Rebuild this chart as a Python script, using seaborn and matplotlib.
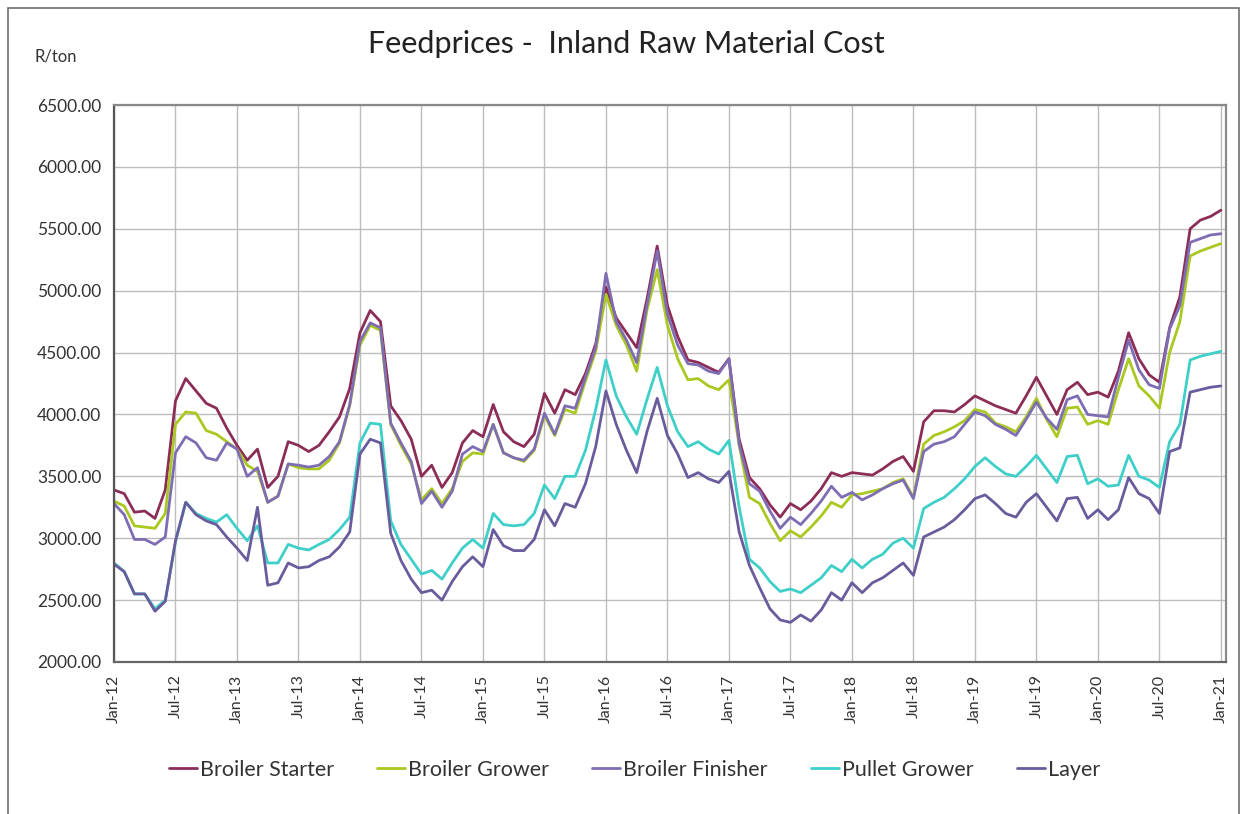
import numpy as np
import pandas as pd
import matplotlib
matplotlib.use("Agg")
import matplotlib.pyplot as plt
from matplotlib.patches import Rectangle
import seaborn as sns

# Monthly inland raw material cost (R/ton), Jan-2012 .. Jan-2021
months = pd.date_range("2012-01-01", "2021-01-01", freq="MS")

broiler_starter = [
    3390, 3360, 3210, 3220, 3160, 3390, 4110, 4290, 4190, 4090, 4050, 3890,
    3750, 3630, 3720, 3410, 3500, 3780, 3750, 3700, 3750, 3860, 3980, 4210,
    4660, 4840, 4750, 4070, 3950, 3800, 3500, 3590, 3410, 3530, 3770, 3870,
    3820, 4080, 3860, 3780, 3740, 3840, 4170, 4010, 4200, 4160, 4330, 4570,
    5030, 4780, 4660, 4540, 4930, 5360, 4880, 4630, 4440, 4420, 4380, 4340,
    4450, 3800, 3490, 3400, 3270, 3170, 3280, 3230, 3300, 3400, 3530, 3500,
    3530, 3520, 3510, 3560, 3620, 3660, 3540, 3940, 4030, 4030, 4020, 4080,
    4150, 4110, 4070, 4040, 4010, 4150, 4300, 4150, 4000, 4200, 4260, 4160,
    4180, 4140, 4350, 4660, 4450, 4320, 4260, 4700, 4950, 5500, 5570, 5600,
    5650,
]
broiler_grower = [
    3300, 3260, 3100, 3090, 3080, 3200, 3920, 4020, 4010, 3870, 3840, 3780,
    3720, 3590, 3540, 3290, 3340, 3600, 3570, 3560, 3560, 3630, 3770, 4070,
    4560, 4720, 4680, 3920, 3750, 3600, 3310, 3400, 3280, 3400, 3620, 3690,
    3680, 3920, 3690, 3650, 3620, 3710, 3990, 3830, 4040, 4010, 4270, 4510,
    4970, 4720, 4560, 4350, 4840, 5170, 4720, 4450, 4280, 4290, 4230, 4200,
    4280, 3750, 3330, 3280, 3120, 2980, 3060, 3010, 3090, 3180, 3290, 3250,
    3350, 3360, 3380, 3400, 3450, 3480, 3330, 3760, 3830, 3860, 3900, 3950,
    4040, 4020, 3930, 3900, 3860, 3980, 4130, 3960, 3820, 4050, 4060, 3920,
    3950, 3920, 4200, 4450, 4230, 4150, 4050, 4500, 4750, 5280, 5320, 5350,
    5380,
]
broiler_finisher = [
    3280, 3190, 2990, 2990, 2950, 3010, 3690, 3820, 3770, 3650, 3630, 3770,
    3720, 3500, 3570, 3290, 3340, 3600, 3590, 3575, 3590, 3660, 3780, 4080,
    4590, 4740, 4700, 3930, 3770, 3620, 3280, 3380, 3250, 3380, 3680, 3740,
    3700, 3920, 3690, 3650, 3630, 3720, 4010, 3840, 4070, 4050, 4300, 4540,
    5140, 4750, 4600, 4420, 4880, 5320, 4810, 4560, 4410, 4400, 4350, 4330,
    4450, 3760, 3440, 3380, 3220, 3080, 3170, 3110, 3200, 3300, 3420, 3330,
    3370, 3310, 3350, 3400, 3440, 3470, 3320, 3700, 3760, 3780, 3820, 3920,
    4020, 3990, 3920, 3880, 3830, 3960, 4100, 3970, 3880, 4120, 4150, 4000,
    3990, 3980, 4300, 4600, 4360, 4240, 4210, 4690, 4880, 5390, 5420, 5450,
    5460,
]
pullet_grower = [
    2800, 2730, 2550, 2550, 2430, 2500, 2970, 3290, 3200, 3160, 3130, 3190,
    3080, 2980, 3100, 2800, 2800, 2950, 2920, 2905, 2950, 2990, 3070, 3170,
    3770, 3930, 3920, 3140, 2950, 2830, 2710, 2740, 2670, 2800, 2920, 2990,
    2920, 3200, 3110, 3100, 3110, 3200, 3430, 3320, 3500, 3500, 3710, 4040,
    4440, 4150, 3980, 3840, 4120, 4380, 4070, 3860, 3740, 3780, 3720, 3680,
    3790, 3250, 2830, 2760, 2650, 2570, 2590, 2560, 2620, 2680, 2780, 2730,
    2830, 2760, 2830, 2870, 2960, 3000, 2920, 3240, 3290, 3330, 3400, 3480,
    3580, 3650, 3580, 3520, 3500, 3580, 3670, 3560, 3450, 3660, 3670, 3440,
    3480, 3420, 3430, 3670, 3500, 3470, 3410, 3780, 3920, 4440, 4470, 4490,
    4510,
]
layer = [
    2790, 2730, 2550, 2550, 2410, 2490, 2980, 3290, 3190, 3140, 3110, 3010,
    2920, 2820, 3250, 2620, 2640, 2800, 2760, 2770, 2820, 2850, 2930, 3050,
    3680, 3800, 3770, 3040, 2820, 2670, 2560, 2580, 2500, 2650, 2770, 2850,
    2770, 3070, 2940, 2900, 2900, 2990, 3230, 3100, 3280, 3250, 3440, 3740,
    4190, 3920, 3710, 3530, 3860, 4130, 3830, 3680, 3490, 3530, 3480, 3450,
    3540, 3050, 2780, 2600, 2430, 2340, 2320, 2380, 2330, 2420, 2560, 2500,
    2640, 2560, 2640, 2680, 2740, 2800, 2700, 3010, 3050, 3090, 3150, 3230,
    3320, 3350, 3280, 3200, 3170, 3290, 3360, 3250, 3140, 3320, 3330, 3160,
    3230, 3150, 3230, 3490, 3360, 3320, 3200, 3700, 3730, 4180, 4200, 4220,
    4230,
]

series_names = ["Broiler Starter", "Broiler Grower", "Broiler Finisher",
                "Pullet Grower", "Layer"]
series_values = [broiler_starter, broiler_grower, broiler_finisher,
                 pullet_grower, layer]
series_colors = ["#8C2D58", "#A9C820", "#7F6DB4", "#3FCFC9", "#6A5C9C"]

y_ticks = [2000, 2500, 3000, 3500, 4000, 4500, 5000, 5500, 6000, 6500]

# long-form table: one row per month and feed type
rows = []
for name, vals in zip(series_names, series_values):
    for i, v in enumerate(vals):
        rows.append({"month": i, "feed": name, "price": v})
df = pd.DataFrame(rows)

sns.set_theme(style="white")
plt.rcParams["font.family"] = ["Lato", "DejaVu Sans"]

W, H = 1244, 814
fig = plt.figure(figsize=(W / 100, H / 100), dpi=100)
ax = fig.add_axes([114 / W, 1 - 662 / H, (1226 - 114) / W, (662 - 105) / H])

sns.lineplot(data=df, x="month", y="price", hue="feed",
             hue_order=series_names, palette=dict(zip(series_names, series_colors)),
             linewidth=2.0, ax=ax, legend=True)

# axes, ticks and grid
ax.set_xlim(0, 108.5)
ax.set_ylim(2000, 6500)
tick_idx = list(range(0, len(months), 6))
ax.set_xticks(tick_idx)
ax.set_xticklabels([months[i].strftime("%b-%y") for i in tick_idx],
                   rotation=90, fontsize=11.5, color="#333333")
ax.set_yticks(y_ticks)
ax.set_yticklabels([f"{v:.2f}" for v in y_ticks], fontsize=12.5, color="#333333")
ax.tick_params(axis="both", direction="out", length=5, width=1,
               color="#555555", pad=4)
ax.grid(True, color="#BDBDBD", linewidth=1.0)
ax.set_axisbelow(True)
ax.set_xlabel("")
ax.set_ylabel("")
for side, sp in ax.spines.items():
    sp.set_visible(True)
    sp.set_linewidth(1.6)
    sp.set_color("#8A8A8A")
ax.spines["left"].set_color("#555555")
ax.spines["bottom"].set_color("#666666")

# legend below the plot
handles, labels = ax.get_legend_handles_labels()
ax.legend(handles, labels, loc="center", bbox_to_anchor=(0.51, (814 - 770) / H),
          bbox_transform=fig.transFigure, ncol=5, frameon=False,
          fontsize=15.5, handlelength=1.3, handletextpad=0.15,
          columnspacing=2.0, labelcolor="#333333")

# title and unit label
fig.text(626 / W, 1 - 44 / H, "Feedprices -  Inland Raw Material Cost",
         ha="center", va="center", fontsize=22, color="#222222")
fig.text(56 / W, 1 - 57 / H, "R/ton", ha="center", va="center",
         fontsize=12, color="#333333")

# outer chart frame (bottom edge runs past the image)
fig.patches.append(Rectangle((8 / W, -6 / H), (1239 - 8) / W, (806 + 6) / H,
                             transform=fig.transFigure, fill=False,
                             edgecolor="#6E6E6E", linewidth=1.2))

fig.savefig("out.png", dpi=100, facecolor="white")
